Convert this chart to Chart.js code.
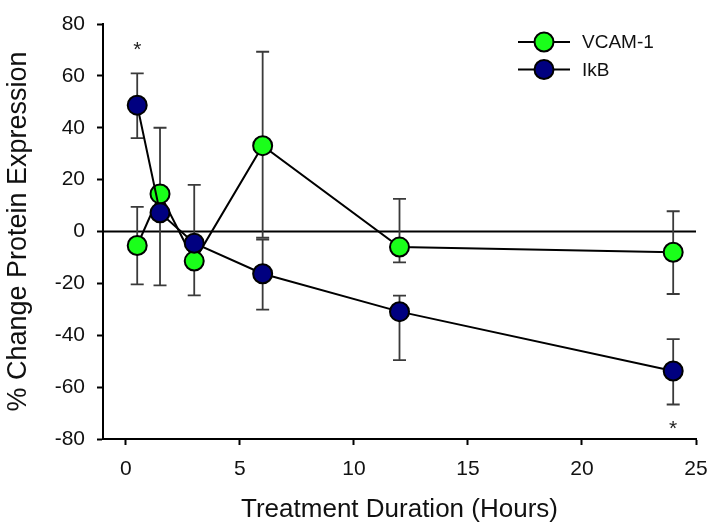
<!DOCTYPE html>
<html>
<head>
<meta charset="utf-8">
<script src="https://cdn.jsdelivr.net/npm/chart.js@4.4.1/dist/chart.umd.min.js"></script>
<style>
  html, body { margin: 0; padding: 0; background: #fff; }
  #wrap { width: 711px; height: 525px; }
</style>
</head>
<body>
<div id="wrap"><canvas id="chart" width="711" height="525"></canvas></div>
<script>
const hours = [0.5, 1.5, 3, 6, 12, 24];

const vcam = [-5.4, 14.5, -11.4, 33.1, -6, -8];
const vcamHigh = [9.5, 40, 18, 69.3, 12.6, 7.8];
const vcamLow = [-20.4, -20.8, -24.6, -2.4, -11.9, -24.1];

const ikb = [48.7, 7.2, -4.5, -16.3, -30.9, -53.8];
const ikbHigh = [61, null, null, -3.1, -24.7, -41.5];
const ikbLow = [36, null, null, -30.1, -49.6, -66.7];

const starX = [0.5, 24];
const starY = [71, -75];

const xTicks = [0, 5, 10, 15, 20, 25];
const yTicks = [-80, -60, -40, -20, 0, 20, 40, 60, 80];

const FONT = "'Liberation Sans', Arial, sans-serif";

function pts(xs, ys){
  return xs.map((x, i) => ({x, y: ys[i]}));
}

const extras = {
  id: "extras",
  beforeDatasetsDraw(chart){
    const {ctx, chartArea, scales: {x, y}} = chart;
    ctx.save();
    // zero line
    ctx.strokeStyle = "#000";
    ctx.lineWidth = 2;
    ctx.beginPath();
    ctx.moveTo(chartArea.left, y.getPixelForValue(0));
    ctx.lineTo(chartArea.right, y.getPixelForValue(0));
    ctx.stroke();
    // error bars
    ctx.strokeStyle = "#3a3a3a";
    ctx.lineWidth = 1.8;
    const bars = [[vcam, vcamHigh, vcamLow], [ikb, ikbHigh, ikbLow]];
    bars.forEach(([mean, hi, lo]) => {
      hours.forEach((h, i) => {
        const px = x.getPixelForValue(h);
        const yc = y.getPixelForValue(mean[i]);
        [hi[i], lo[i]].forEach(v => {
          if(v === null) return;
          const py = y.getPixelForValue(v);
          ctx.beginPath();
          ctx.moveTo(px, yc);
          ctx.lineTo(px, py);
          ctx.moveTo(px - 6.5, py);
          ctx.lineTo(px + 6.5, py);
          ctx.stroke();
        });
      });
    });
    ctx.restore();
  },
  afterDatasetsDraw(chart){
    const {ctx, scales: {x, y}} = chart;
    ctx.save();
    ctx.fillStyle = "#222";
    ctx.font = "21px " + FONT;
    ctx.textAlign = "center";
    ctx.textBaseline = "middle";
    starX.forEach((sx, i) => {
      ctx.fillText("*", x.getPixelForValue(sx), y.getPixelForValue(starY[i]) + 3);
    });

    // legend
    const items = [["VCAM-1", "#1aff1a"], ["IkB", "#000080"]];
    items.forEach(([label, color], i) => {
      const ly = 42 + i * 27.5;
      ctx.strokeStyle = "#000";
      ctx.lineWidth = 2;
      ctx.beginPath();
      ctx.moveTo(518, ly);
      ctx.lineTo(570, ly);
      ctx.stroke();
      ctx.beginPath();
      ctx.arc(544, ly, 9.5, 0, Math.PI * 2);
      ctx.fillStyle = color;
      ctx.fill();
      ctx.stroke();
      ctx.fillStyle = "#111";
      ctx.textAlign = "left";
      ctx.font = "19px " + FONT;
      ctx.fillText(label, 582, ly + 1);
    });
    ctx.restore();
  }
};

new Chart(document.getElementById("chart").getContext("2d"), {
  type: "scatter",
  data: {
    datasets: [
      {
        label: "IkB",
        data: pts(hours, ikb),
        showLine: true,
        borderColor: "#000",
        borderWidth: 2,
        pointBackgroundColor: "#000080",
        pointBorderColor: "#000",
        pointBorderWidth: 2,
        pointRadius: 9.5
      },
      {
        label: "VCAM-1",
        data: pts(hours, vcam),
        showLine: true,
        borderColor: "#000",
        borderWidth: 2,
        pointBackgroundColor: "#1aff1a",
        pointBorderColor: "#000",
        pointBorderWidth: 2,
        pointRadius: 9.5
      }
    ]
  },
  options: {
    responsive: false,
    animation: false,
    layout: { padding: { top: 24, right: 15, left: 0, bottom: 0 } },
    plugins: { legend: { display: false }, tooltip: { enabled: false } },
    scales: {
      x: {
        type: "linear",
        min: -1,
        max: 25,
        afterBuildTicks: axis => { axis.ticks = xTicks.map(v => ({value: v})); },
        afterFit: s => { s.height = 86; s.paddingLeft = 0; s.paddingRight = 0; },
        grid: { drawOnChartArea: false, color: "#000", tickLength: 6, tickWidth: 2 },
        border: { color: "#000", width: 2 },
        ticks: { color: "#111", font: { family: FONT, size: 21 }, padding: 12, maxRotation: 0 },
        title: { display: true, text: "Treatment Duration (Hours)", color: "#111",
                 font: { family: FONT, size: 26 }, padding: { top: 0, bottom: 0 } }
      },
      y: {
        min: -80,
        max: 80,
        afterBuildTicks: axis => { axis.ticks = yTicks.map(v => ({value: v})); },
        afterFit: s => { s.width = 103; s.paddingTop = 0; s.paddingBottom = 0; },
        grid: { drawOnChartArea: false, color: "#000", tickLength: 6, tickWidth: 2 },
        border: { color: "#000", width: 2 },
        ticks: { color: "#111", font: { family: FONT, size: 21 }, padding: 12 },
        title: { display: true, text: "% Change Protein Expression", color: "#111",
                 font: { family: FONT, size: 27 }, padding: { top: 2, bottom: 0 } }
      }
    }
  },
  plugins: [extras]
});
</script>
</body>
</html>
